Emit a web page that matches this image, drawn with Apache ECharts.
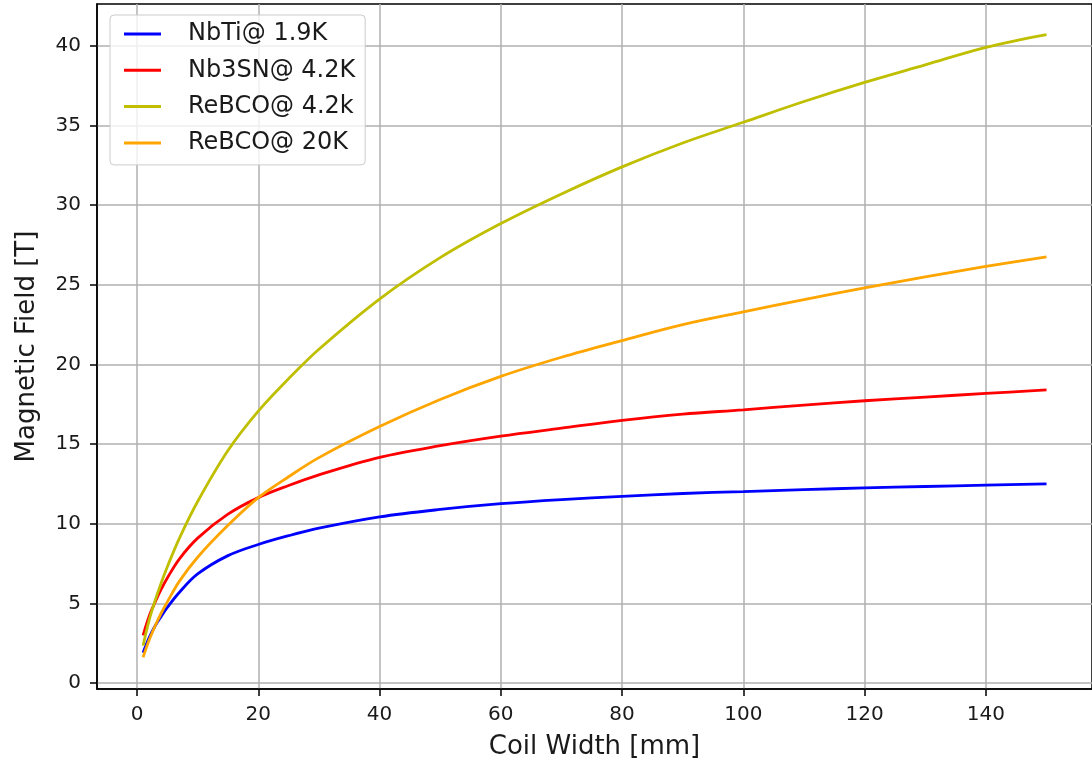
<!DOCTYPE html>
<html>
<head>
<meta charset="utf-8">
<script src="https://cdn.jsdelivr.net/npm/echarts@6/dist/echarts.min.js"></script>
<style>
html,body{margin:0;padding:0;background:#fff;}
#c{width:1092px;height:765px;}
</style>
</head>
<body>
<div id="c"></div>
<script>
// Coil width [mm]
const coilWidth = [1, 2, 3, 4, 5, 7, 10, 15, 20, 25, 30, 40, 50, 60, 70, 80, 90, 100, 110, 120, 130, 140, 150];
// Magnetic field [T]
const nbti19 = [1.9, 2.85, 3.6, 4.2, 4.75, 5.7, 6.85, 8.0, 8.7, 9.25, 9.72, 10.43, 10.9, 11.26, 11.52, 11.72, 11.9, 12.02, 12.14, 12.25, 12.34, 12.42, 12.5];
const nb3sn42 = [3.0, 4.2, 5.1, 5.9, 6.6, 7.8, 9.1, 10.6, 11.64, 12.4, 13.07, 14.17, 14.9, 15.5, 16.0, 16.49, 16.88, 17.15, 17.45, 17.72, 17.95, 18.18, 18.4];
const rebco42 = [2.35, 3.95, 5.2, 6.3, 7.3, 9.1, 11.4, 14.6, 17.07, 19.1, 20.95, 24.1, 26.7, 28.84, 30.7, 32.4, 33.9, 35.2, 36.5, 37.7, 38.8, 39.9, 40.7];
const rebco20 = [1.62, 2.7, 3.6, 4.4, 5.1, 6.4, 7.9, 9.9, 11.64, 12.95, 14.15, 16.1, 17.8, 19.25, 20.45, 21.5, 22.5, 23.3, 24.07, 24.8, 25.5, 26.15, 26.75];
const seriesNames = ['NbTi@ 1.9K', 'Nb3SN@ 4.2K', 'ReBCO@ 4.2k', 'ReBCO@ 20K'];
const seriesColors = ['#0000ff', '#ff0000', '#bfbf00', '#ffa500'];
const xTicks = [0, 20, 40, 60, 80, 100, 120, 140];
const yTicks = [0, 5, 10, 15, 20, 25, 30, 35, 40];

const allValues = [nbti19, nb3sn42, rebco42, rebco20];
const font = 'DejaVu Sans';

const chart = echarts.init(document.getElementById('c'), null, {renderer: 'canvas'});
chart.setOption({
  animation: false,
  backgroundColor: '#ffffff',
  textStyle: {fontFamily: font},
  grid: {
    left: 97, top: 4, width: 1001, height: 689,
    show: true, borderColor: '#000', borderWidth: 1.5, backgroundColor: 'transparent'
  },
  legend: {
    left: 110, top: 15,
    orient: 'vertical',
    padding: [7, 10, 10, 14],
    itemGap: 12.3,
    itemWidth: 37, itemHeight: 3,
    icon: 'rect',
    backgroundColor: 'rgba(255,255,255,0.8)',
    borderColor: '#cccccc', borderWidth: 1, borderRadius: 4,
    textStyle: {fontFamily: font, fontSize: 24, color: '#1a1a1a', lineHeight: 24, padding: [0, 0, 0, 22]},
    data: seriesNames
  },
  xAxis: {
    type: 'value', min: -6.6, max: 157.5,
    name: 'Coil Width [mm]', nameLocation: 'middle', nameGap: 45,
    nameTextStyle: {fontFamily: font, fontSize: 26, color: '#1a1a1a'},
    axisLine: {show: true, onZero: false, lineStyle: {color: '#000', width: 1.5}},
    axisTick: {show: true, inside: false, length: 7, lineStyle: {color: '#000', width: 1.5}, customValues: xTicks},
    axisLabel: {fontFamily: font, fontSize: 20, color: '#1a1a1a', margin: 16, customValues: xTicks},
    splitLine: {show: true, lineStyle: {color: '#b0b0b0', width: 1.5}}
  },
  yAxis: {
    type: 'value', min: -0.37, max: 42.62,
    name: 'Magnetic Field [T]', nameLocation: 'middle', nameGap: 57, nameRotate: 90,
    nameTextStyle: {fontFamily: font, fontSize: 26, color: '#1a1a1a'},
    axisLine: {show: true, onZero: false, lineStyle: {color: '#000', width: 1.5}},
    axisTick: {show: true, inside: false, length: 7, lineStyle: {color: '#000', width: 1.5}, customValues: yTicks},
    axisLabel: {fontFamily: font, fontSize: 20, color: '#1a1a1a', margin: 16, customValues: yTicks},
    splitLine: {show: true, lineStyle: {color: '#b0b0b0', width: 1.5}}
  },
  series: seriesNames.map((n, i) => ({
    name: n, type: 'line',
    data: coilWidth.map((x, j) => [x, allValues[i][j]]),
    showSymbol: false, symbol: 'none',
    smooth: 0.35,
    lineStyle: {color: seriesColors[i], width: 2.8},
    itemStyle: {color: seriesColors[i]},
    z: 3
  }))
});
</script>
</body>
</html>
